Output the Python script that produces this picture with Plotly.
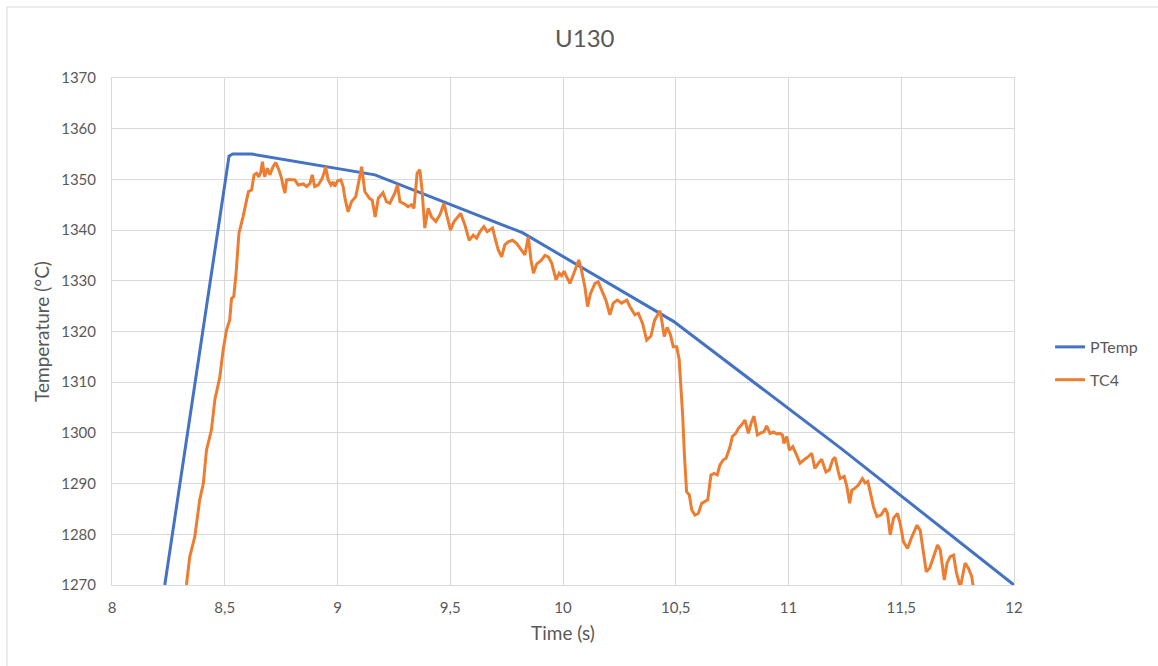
import plotly.graph_objects as go

# ---- data ----
ptemp_x = [8.234, 8.519, 8.535, 8.62, 9.166, 9.82, 10.49, 11.237, 12.0]
ptemp_y = [1270.0, 1354.6, 1355.0, 1355.0, 1350.9, 1339.5, 1322.0, 1296.8, 1270.0]

tc4_x = [8.31, 8.330, 8.345, 8.367, 8.389, 8.405, 8.419, 8.441, 8.456, 8.478, 8.493, 8.508, 8.522, 8.530, 8.540,
         8.549, 8.563, 8.581, 8.605, 8.619, 8.630, 8.641, 8.651, 8.660, 8.667, 8.677, 8.689, 8.700, 8.714, 8.726,
         8.740, 8.752, 8.759, 8.767, 8.774, 8.789, 8.811, 8.826, 8.848, 8.863, 8.878, 8.888, 8.899, 8.914, 8.929,
         8.940, 8.947, 8.959, 8.971, 8.981, 8.988, 9.000, 9.015, 9.025, 9.033, 9.047, 9.062, 9.081, 9.096, 9.107,
         9.121, 9.141, 9.154, 9.167, 9.181, 9.202, 9.217, 9.232, 9.254, 9.266, 9.277, 9.299, 9.313, 9.328, 9.339,
         9.353, 9.365, 9.375, 9.387, 9.402, 9.417, 9.436, 9.454, 9.472, 9.484, 9.501, 9.517, 9.535, 9.546, 9.565,
         9.584, 9.602, 9.617, 9.632, 9.649, 9.664, 9.688, 9.701, 9.713, 9.728, 9.742, 9.757, 9.776, 9.794, 9.816,
         9.831, 9.846, 9.858, 9.869, 9.883, 9.903, 9.920, 9.935, 9.950, 9.969, 9.983, 9.994, 10.005, 10.016, 10.031,
         10.045, 10.060, 10.070, 10.082, 10.097, 10.109, 10.122, 10.142, 10.156, 10.171, 10.190, 10.208, 10.223,
         10.241, 10.260, 10.283, 10.297, 10.319, 10.334, 10.353, 10.371, 10.390, 10.406, 10.425, 10.430, 10.440,
         10.449, 10.462, 10.476, 10.489, 10.504, 10.515, 10.523, 10.531, 10.538, 10.548, 10.560, 10.571, 10.585,
         10.600, 10.615, 10.627, 10.642, 10.656, 10.670, 10.684, 10.696, 10.711, 10.723, 10.741, 10.751, 10.766,
         10.778, 10.792, 10.807, 10.822, 10.834, 10.847, 10.862, 10.877, 10.891, 10.903, 10.918, 10.933, 10.948,
         10.962, 10.973, 10.980, 10.992, 11.004, 11.019, 11.036, 11.051, 11.069, 11.088, 11.103, 11.117, 11.132,
         11.147, 11.166, 11.181, 11.196, 11.206, 11.221, 11.229, 11.247, 11.259, 11.271, 11.281, 11.295, 11.310,
         11.328, 11.340, 11.352, 11.362, 11.377, 11.392, 11.410, 11.429, 11.439, 11.451, 11.466, 11.483, 11.495,
         11.510, 11.528, 11.547, 11.570, 11.584, 11.596, 11.611, 11.626, 11.643, 11.661, 11.673, 11.691, 11.703,
         11.717, 11.732, 11.744, 11.762, 11.783, 11.798, 11.813, 11.830]
tc4_y = [1266.0, 1270.0, 1275.6, 1279.5, 1286.8, 1290.0, 1296.6, 1300.6, 1306.5, 1311.0, 1316.4, 1320.3, 1322.3, 1326.5, 1326.9,
         1330.8, 1339.4, 1342.6, 1347.6, 1347.9, 1350.9, 1351.2, 1350.5, 1351.5, 1353.5, 1350.5, 1352.2, 1350.9, 1352.5, 1353.3,
         1351.9, 1350.2, 1348.6, 1347.3, 1349.9, 1350.0, 1349.9, 1348.9, 1349.1, 1348.6, 1349.2, 1350.9, 1348.6, 1348.9, 1349.9,
         1351.2, 1352.5, 1349.9, 1348.9, 1349.5, 1348.6, 1349.7, 1349.9, 1348.6, 1346.3, 1343.6, 1345.6, 1346.6, 1349.9, 1352.5,
         1347.6, 1346.3, 1345.9, 1342.6, 1346.3, 1347.4, 1345.6, 1345.3, 1347.3, 1348.9, 1345.6, 1345.1, 1344.6, 1345.0, 1344.3,
         1351.2, 1351.9, 1347.9, 1340.4, 1344.3, 1342.6, 1341.7, 1343.0, 1345.3, 1343.0, 1340.0, 1341.7, 1342.6, 1343.3, 1341.0,
         1338.0, 1339.0, 1338.4, 1339.7, 1340.7, 1339.7, 1340.4, 1338.0, 1336.1, 1334.7, 1337.1, 1337.7, 1338.0, 1337.4, 1336.1,
         1335.1, 1338.7, 1334.1, 1331.5, 1333.3, 1334.0, 1335.0, 1334.7, 1333.5, 1330.2, 1331.5, 1331.0, 1331.9, 1330.8, 1329.5,
         1331.1, 1332.8, 1334.1, 1332.1, 1328.8, 1324.9, 1327.5, 1329.5, 1329.8, 1328.2, 1326.2, 1323.3, 1325.6,
         1326.2, 1325.6, 1326.2, 1324.9, 1323.3, 1323.6, 1321.6, 1318.3, 1319.1, 1322.2, 1323.7, 1324.1, 1321.6,
         1319.0, 1320.8, 1319.4, 1317.0, 1317.0, 1314.6, 1309.8, 1303.2, 1296.0, 1288.4, 1287.8, 1284.8, 1283.8,
         1284.1, 1286.1, 1286.4, 1286.8, 1291.7, 1292.0, 1291.7, 1293.7, 1294.7, 1295.0, 1297.3, 1299.3, 1299.9,
         1300.9, 1301.6, 1302.5, 1299.9, 1301.9, 1303.3, 1299.6, 1300.0, 1300.2, 1301.4, 1299.9, 1300.2, 1299.8,
         1299.9, 1299.6, 1297.9, 1299.3, 1296.6, 1297.3, 1295.6, 1294.0, 1294.7, 1295.3, 1296.0, 1293.0, 1294.0,
         1294.8, 1292.3, 1292.7, 1294.7, 1295.2, 1292.3, 1291.0, 1291.4, 1289.4, 1286.1, 1288.7, 1289.1, 1289.7,
         1291.0, 1290.1, 1290.4, 1288.1, 1285.4, 1283.5, 1283.8, 1285.1, 1284.1, 1279.9, 1283.2, 1284.1, 1282.2,
         1278.5, 1277.2, 1279.5, 1281.8, 1280.8, 1277.2, 1272.6, 1273.3, 1275.6, 1277.9, 1276.9, 1271.0, 1274.3,
         1275.6, 1275.9, 1272.6, 1269.5, 1274.3, 1273.3, 1271.6, 1266.0]

x_tickvals = [8, 8.5, 9, 9.5, 10, 10.5, 11, 11.5, 12]
x_ticktext = ["8", "8,5", "9", "9,5", "10", "10,5", "11", "11,5", "12"]
y_tickvals = [1270, 1280, 1290, 1300, 1310, 1320, 1330, 1340, 1350, 1360, 1370]

FONT = "Lato"
GREY = "#595959"
GRID = "#d9d9d9"

fig = go.Figure()
fig.add_trace(go.Scatter(x=ptemp_x, y=ptemp_y, mode="lines", name="PTemp", legendgroup="a",
                         line=dict(color="#4472C4", width=3)))
fig.add_trace(go.Scatter(x=tc4_x, y=tc4_y, mode="lines", name="TC4", legendgroup="b",
                         line=dict(color="#ED7D31", width=3)))

fig.update_layout(
    width=1158, height=666,
    margin=dict(l=112, r=144, t=78, b=81, autoexpand=False),
    paper_bgcolor="white", plot_bgcolor="white",
    font=dict(family=FONT, color=GREY, size=15),
    title=dict(text="U130", x=0.505, xref="container", xanchor="center",
               y=1 - 39 / 666, yref="container", yanchor="middle",
               font=dict(family=FONT, size=24, color=GREY)),
    legend=dict(x=1.04, y=0.503, xanchor="left", yanchor="top", bgcolor="rgba(0,0,0,0)",
                font=dict(family=FONT, size=16, color=GREY), tracegroupgap=9,
                traceorder="grouped"),
    showlegend=True,
)
fig.update_xaxes(range=[8, 12], tickvals=x_tickvals, ticktext=x_ticktext,
                 showgrid=True, gridcolor=GRID, gridwidth=1, zeroline=False,
                 showline=True, linecolor=GRID, linewidth=1, mirror=True,
                 ticks="", ticklabelstandoff=9,
                 tickfont=dict(family=FONT, size=15, color=GREY),
                 title=dict(text="Time (s)", font=dict(family=FONT, size=19, color=GREY), standoff=11))
fig.update_yaxes(range=[1270, 1370], tickvals=y_tickvals,
                 showgrid=True, gridcolor=GRID, gridwidth=1, zeroline=False,
                 showline=True, linecolor=GRID, linewidth=1, mirror=True,
                 ticks="", ticklabelstandoff=12,
                 tickfont=dict(family=FONT, size=15, color=GREY),
                 title=dict(text="Temperature (°C)", font=dict(family=FONT, size=19, color=GREY), standoff=6))

# chart-area border
fig.add_shape(type="rect", xref="paper", yref="paper",
              x0=(7 - 112) / 902, x1=(1200 - 112) / 902,
              y0=(585 - 700) / 507, y1=(585 - 7) / 507,
              line=dict(color=GRID, width=1), fillcolor="rgba(0,0,0,0)", layer="below")

fig.write_html("out.html")
